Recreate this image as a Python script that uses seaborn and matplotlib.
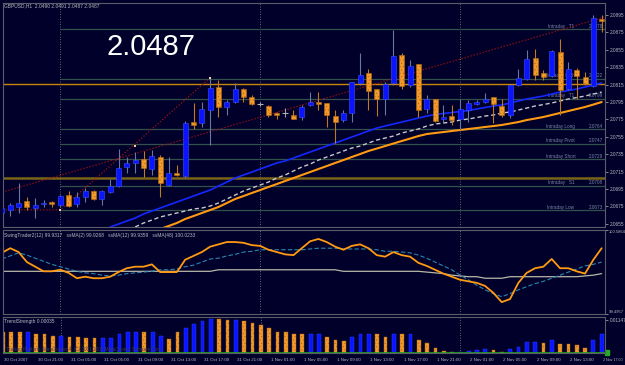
import numpy as np
import pandas as pd
import matplotlib
matplotlib.use("Agg")
import matplotlib.pyplot as plt
import matplotlib.transforms as mtransforms
import seaborn as sns

sns.set_theme(style="dark")
plt.rcParams['font.family'] = ['Liberation Sans', 'DejaVu Sans']
plt.rcParams['hatch.linewidth'] = 0.4

# ---------------- data ----------------
opens = [2.0667, 2.0671, 2.0674, 2.0681, 2.0673, 2.0678, 2.0680, 2.0677, 2.0688, 2.0678,
         2.0686, 2.0693, 2.0684, 2.0692, 2.0699, 2.0720, 2.0725, 2.0730, 2.0718, 2.0732,
         2.0700, 2.0713, 2.0710, 2.0772, 2.0771, 2.0786, 2.0812, 2.0789, 2.0795, 2.0810,
         2.0801, 2.0793, 2.0790, 2.0782, 2.0782, 2.0780, 2.0778, 2.0792, 2.0795, 2.0794,
         2.0779, 2.0774, 2.0782, 2.0817, 2.0828, 2.0810, 2.0798, 2.0817, 2.0849, 2.0815,
         2.0839, 2.0787, 2.0798, 2.0775, 2.0779, 2.0775, 2.0786, 2.0793, 2.0795, 2.0801,
         2.0790, 2.0780, 2.0815, 2.0821, 2.0846, 2.0828, 2.0825, 2.0852, 2.0810, 2.0832,
         2.0824, 2.0813, 2.0891]
highs = [2.0676, 2.0679, 2.0702, 2.0686, 2.0685, 2.0682, 2.0681, 2.0688, 2.0693, 2.0692,
         2.0696, 2.0694, 2.0694, 2.0707, 2.0741, 2.0732, 2.0738, 2.0739, 2.0740, 2.0734,
         2.0732, 2.0723, 2.0773, 2.0794, 2.0795, 2.0823, 2.0820, 2.0797, 2.0817, 2.0811,
         2.0803, 2.0795, 2.0792, 2.0783, 2.0788, 2.0786, 2.0792, 2.0806, 2.0806, 2.0794,
         2.0786, 2.0786, 2.0818, 2.0851, 2.0833, 2.0810, 2.0818, 2.0878, 2.0851, 2.0843,
         2.0839, 2.0803, 2.0799, 2.0792, 2.0792, 2.0799, 2.0797, 2.0797, 2.0805, 2.0801,
         2.0799, 2.0815, 2.0833, 2.0855, 2.0856, 2.0832, 2.0855, 2.0868, 2.0841, 2.0834,
         2.0829, 2.0895, 2.0895]
lows = [2.0666, 2.0664, 2.0667, 2.0671, 2.0662, 2.0674, 2.0674, 2.0674, 2.0674, 2.0674,
        2.0680, 2.0682, 2.0677, 2.0690, 2.0697, 2.0713, 2.0713, 2.0709, 2.0711, 2.0686,
        2.0699, 2.0710, 2.0708, 2.0764, 2.0766, 2.0746, 2.0778, 2.0780, 2.0794, 2.0795,
        2.0792, 2.0790, 2.0778, 2.0775, 2.0778, 2.0775, 2.0774, 2.0790, 2.0786, 2.0766,
        2.0748, 2.0772, 2.0772, 2.0815, 2.0786, 2.0779, 2.0780, 2.0815, 2.0810, 2.0812,
        2.0778, 2.0782, 2.0772, 2.0771, 2.0769, 2.0763, 2.0772, 2.0792, 2.0794, 2.0771,
        2.0778, 2.0777, 2.0813, 2.0820, 2.0820, 2.0820, 2.0824, 2.0780, 2.0809, 2.0798,
        2.0815, 2.0812, 2.0875]
closes = [2.0673, 2.0677, 2.0679, 2.0674, 2.0677, 2.0679, 2.0678, 2.0687, 2.0676, 2.0686,
          2.0693, 2.0684, 2.0693, 2.0699, 2.0719, 2.0725, 2.0728, 2.0719, 2.0733, 2.0702,
          2.0713, 2.0711, 2.0771, 2.0769, 2.0787, 2.0811, 2.0789, 2.0795, 2.0810, 2.0801,
          2.0793, 2.0793, 2.0780, 2.0780, 2.0782, 2.0775, 2.0789, 2.0795, 2.0793, 2.0780,
          2.0772, 2.0782, 2.0818, 2.0826, 2.0808, 2.0799, 2.0816, 2.0848, 2.0813, 2.0837,
          2.0786, 2.0799, 2.0773, 2.0778, 2.0774, 2.0787, 2.0794, 2.0795, 2.0799, 2.0793,
          2.0780, 2.0815, 2.0823, 2.0844, 2.0826, 2.0824, 2.0854, 2.0809, 2.0833, 2.0825,
          2.0816, 2.0892, 2.0888]

# moving averages on price (start bar, values)
ma_blue_start = 13
ma_blue = [2.06513, 2.06547, 2.06582, 2.06616, 2.06662, 2.06697, 2.06731, 2.06766, 2.06800, 2.06835,
           2.06869, 2.06904, 2.06938, 2.06984, 2.07030, 2.07076, 2.07111, 2.07145, 2.07180, 2.07214,
           2.07249, 2.07272, 2.07306, 2.07341, 2.07375, 2.07410, 2.07444, 2.07479, 2.07513, 2.07548,
           2.07582, 2.07617, 2.07651, 2.07674, 2.07697, 2.07720, 2.07743, 2.07766, 2.07789, 2.07806,
           2.07818, 2.07829, 2.07841, 2.07852, 2.07870, 2.07887, 2.07904, 2.07916, 2.07939, 2.07962,
           2.07985, 2.08002, 2.08019, 2.08042, 2.08065, 2.08082, 2.08100, 2.08123, 2.08146, 2.08169]
ma_grey_start = 16
ma_grey = [2.06513, 2.06559, 2.06593, 2.06628, 2.06651, 2.06674, 2.06697, 2.06720, 2.06731, 2.06754,
           2.06789, 2.06835, 2.06881, 2.06927, 2.06961, 2.06996, 2.07030, 2.07076, 2.07111, 2.07157,
           2.07203, 2.07237, 2.07283, 2.07318, 2.07352, 2.07387, 2.07421, 2.07444, 2.07479, 2.07513,
           2.07536, 2.07559, 2.07594, 2.07617, 2.07640, 2.07674, 2.07697, 2.07709, 2.07720, 2.07743,
           2.07755, 2.07772, 2.07789, 2.07801, 2.07824, 2.07835, 2.07858, 2.07881, 2.07904, 2.07921,
           2.07939, 2.07962, 2.07985, 2.08002, 2.08019, 2.08042, 2.08065]
ma_orange_start = 19
ma_orange = [2.06490, 2.06524, 2.06559, 2.06605, 2.06639, 2.06674, 2.06708, 2.06743, 2.06789, 2.06835,
             2.06869, 2.06904, 2.06938, 2.06973, 2.07007, 2.07042, 2.07076, 2.07111, 2.07145, 2.07180,
             2.07214, 2.07249, 2.07283, 2.07318, 2.07352, 2.07387, 2.07415, 2.07444, 2.07473, 2.07502,
             2.07530, 2.07559, 2.07582, 2.07594, 2.07605, 2.07617, 2.07628, 2.07640, 2.07651, 2.07663,
             2.07674, 2.07686, 2.07703, 2.07720, 2.07743, 2.07760, 2.07778, 2.07801, 2.07824, 2.07847,
             2.07870, 2.07893, 2.07921, 2.07950]

# intraday levels
level_values = [2.0879, 2.0822, 2.0799, 2.0764, 2.0747, 2.0729, 2.0699, 2.0671]
level_names = ["Intraday   T1", "Intraday High", "Intraday   T1", "Intraday Long",
               "Intraday Pivot", "Intraday Short", "Intraday   S1", "Intraday Low"]
level_labels = ["2.0878", "2.0822", "2.0799", "2.0764", "2.0747", "2.0729", "2.0708", "2.0673"]
prev_high = 2.0816
prev_low = 2.0708

# trend lines (bar, price)
trend_long_x = [-0.3, 72.4]
trend_long_y = [2.06904, 2.08928]
zigzag_x = [-0.3, 7, 25]
zigzag_y = [2.0671, 2.0671, 2.0823]
pivot_x = [7, 16, 25]
pivot_y = [2.0671, 2.07444, 2.0823]

# oscillator
osc_swing = [100.29, 100.35, 100.30, 100.17, 100.11, 100.05, 100.05, 100.07, 100.03, 99.96,
             99.98, 99.96, 99.96, 99.98, 100.04, 100.09, 100.11, 100.11, 100.14, 100.04,
             100.04, 100.04, 100.20, 100.25, 100.30, 100.37, 100.40, 100.43, 100.43, 100.42,
             100.39, 100.38, 100.33, 100.30, 100.27, 100.26, 100.35, 100.44, 100.47, 100.43,
             100.37, 100.33, 100.38, 100.40, 100.35, 100.26, 100.24, 100.30, 100.26, 100.24,
             100.16, 100.12, 100.07, 100.02, 99.98, 99.94, 99.92, 99.90, 99.86, 99.77,
             99.65, 99.69, 99.90, 100.03, 100.09, 100.11, 100.21, 100.09, 100.09, 100.05,
             100.02, 100.20, 100.35]
osc_ma12 = [100.21, 100.25, 100.29, 100.26, 100.22, 100.18, 100.14, 100.11, 100.08, 100.05,
            100.03, 100.02, 100.00, 99.99, 100.00, 100.02, 100.03, 100.04, 100.05, 100.07,
            100.07, 100.08, 100.11, 100.13, 100.17, 100.21, 100.22, 100.25, 100.27, 100.30,
            100.31, 100.33, 100.33, 100.33, 100.33, 100.33, 100.33, 100.34, 100.35, 100.35,
            100.35, 100.34, 100.34, 100.34, 100.34, 100.33, 100.31, 100.31, 100.30, 100.29,
            100.26, 100.22, 100.17, 100.12, 100.07, 100.00, 99.94, 99.87, 99.81, 99.76,
            99.72, 99.76, 99.81, 99.85, 99.89, 99.92, 99.96, 100.00, 100.04, 100.08,
            100.12, 100.14, 100.17]
osc_ma48 = [100.05] * 26 + [100.07] * 15 + [100.05] * 10 + \
           [100.04, 100.03, 100.02, 100.00, 99.99, 99.98, 99.98, 99.96, 99.96, 99.96] + \
           [99.98] * 9 + [99.99, 100.00, 100.02]
osc_top = 100.5864
osc_bottom = 99.4957

# trend strength histogram
strength = [0.0072, 0.0072, 0.0072, 0.0072, 0.0065, 0.0065, 0.0061, 0.0061, 0.0057, 0.0057,
            0.0054, 0.0054, 0.0054, 0.0054, 0.0065, 0.0072, 0.0075, 0.0072, 0.0075, 0.0061,
            0.0050, 0.0072, 0.0086, 0.0100, 0.0111, 0.0118, 0.0118, 0.0115, 0.0115, 0.0111,
            0.0104, 0.0097, 0.0086, 0.0075, 0.0072, 0.0065, 0.0065, 0.0065, 0.0065, 0.0057,
            0.0047, 0.0043, 0.0057, 0.0068, 0.0068, 0.0065, 0.0057, 0.0068, 0.0068, 0.0068,
            0.0047, 0.0036, 0.0018, 0.0007, 0.0004, 0.0004, 0.0007, 0.0011, 0.0014, 0.0011,
            0.0004, 0.0014, 0.0022, 0.0039, 0.0039, 0.0036, 0.0047, 0.0032, 0.0032, 0.0029,
            0.0018, 0.0047, 0.0068]
strength_dir = list("dddudddudd" "dduuuuuduu" "dduuuuddud" "ddddddduud" "dduuuddudu"
                    "ddddduuuud" "duuuududdd" "duu")

time_labels = ["30 Oct 2007", "30 Oct 21:00", "31 Oct 01:00", "31 Oct 05:00", "31 Oct 09:00",
               "31 Oct 13:00", "31 Oct 17:00", "31 Oct 21:00", "1 Nov 01:00", "1 Nov 05:00",
               "1 Nov 09:00", "1 Nov 13:00", "1 Nov 17:00", "1 Nov 21:00", "2 Nov 01:00",
               "2 Nov 05:00", "2 Nov 09:00", "2 Nov 13:00", "2 Nov 17:00"]
day_breaks = [7, 31, 55]
price_ticks = [2.0655, 2.0675, 2.0695, 2.0715, 2.0735, 2.0755, 2.0775, 2.0795, 2.0815,
               2.0835, 2.0855, 2.0875, 2.0895]
header = "GBPUSD,H1  2.0490 2.0491 2.0487 2.0487"
big_price = "2.0487"
osc_header = "SwingTrader2(12) 99.9317   ssMA(2) 99.9268   ssMA(12) 99.9359   ssMA(48) 100.0233"
ts_header = "TrendStrength 0.00035"

# ---------------- style ----------------
BG = "#00002a"
BLUE = "#0a14ff"
ORANGE = "#f29a2c"
FRAME = "#5c5c68"
TXT = "#b8b8c0"
LVL = "#34504a"
LVLTXT = "#7a88a6"

W, H = 625, 365
fig = plt.figure(figsize=(6.25, 3.65), dpi=100)
fig.patch.set_facecolor(BG)

def box(x0, y0, x1, y1):
    return [x0 / W, 1 - y1 / H, (x1 - x0) / W, (y1 - y0) / H]

ax = fig.add_axes(box(3, 3, 605, 227))
axo = fig.add_axes(box(3, 230, 605, 314))
axb = fig.add_axes(box(3, 317, 605, 353))
XL = (0.13, 72.4)

for a in (ax, axo, axb):
    a.set_facecolor(BG)
    a.grid(False)
    for s in a.spines.values():
        s.set_color(FRAME)
        s.set_linewidth(0.8)
    a.yaxis.tick_right()
    a.tick_params(axis='y', colors=TXT, labelsize=3.4, length=2, width=0.5, pad=1.2,
                  direction='out', labelcolor=TXT)
    for d in day_breaks:
        a.axvline(d, color="#8a8a8a", lw=0.6, ls=(0, (1, 2)), zorder=1)

idx = np.arange(len(opens))
o = np.array(opens); c = np.array(closes); h = np.array(highs); l = np.array(lows)
up = c > o
dn = c < o
dj = c == o

# levels
ax.hlines(level_values, 7, XL[1], colors=LVL, lw=0.9, zorder=1)
for v, n, t in zip(level_values, level_names, level_labels):
    ax.text(67.1, v + 0.00004, n, color=LVLTXT, fontsize=3.3, ha='center', va='bottom', zorder=1)
    ax.text(72.15, v + 0.00004, t, color=LVLTXT, fontsize=3.3, ha='right', va='bottom', zorder=1)
ax.axhline(prev_high, color="#c8860a", lw=1.0, zorder=1.5)
ax.axhline(prev_low, color="#7a6418", lw=1.8, zorder=1.5)

# trend lines
ax.plot(trend_long_x, trend_long_y, color="#a01010", lw=0.9, ls=(0, (1, 1.5)), zorder=2)
ax.plot(zigzag_x, zigzag_y, color="#a01010", lw=0.9, ls=(0, (1, 1.5)), zorder=2)
ax.scatter(pivot_x, pivot_y, s=2.5, marker='s', color="#f0d0b0", zorder=6, linewidths=0)

# moving averages (seaborn)
df_blue = pd.DataFrame({"bar": np.arange(ma_blue_start, ma_blue_start + len(ma_blue)), "v": ma_blue})
df_grey = pd.DataFrame({"bar": np.arange(ma_grey_start, ma_grey_start + len(ma_grey)), "v": ma_grey})
df_or = pd.DataFrame({"bar": np.arange(ma_orange_start, ma_orange_start + len(ma_orange)), "v": ma_orange})
sns.lineplot(data=df_blue, x="bar", y="v", ax=ax, color="#1428ff", lw=1.2, zorder=3)
sns.lineplot(data=df_grey, x="bar", y="v", ax=ax, color="#c8c8c8", lw=1.0, linestyle=(0, (3, 2)), zorder=3)
sns.lineplot(data=df_or, x="bar", y="v", ax=ax, color="#ff9a12", lw=1.5, zorder=3)

# candles
ax.vlines(idx[up], l[up], h[up], colors="#6878a0", lw=0.8, zorder=4)
ax.vlines(idx[dn], l[dn], h[dn], colors="#c07a20", lw=0.8, zorder=4)
ax.vlines(idx[dj], l[dj], h[dj], colors="#a0a0a0", lw=0.8, zorder=4)
bw = 0.6
ax.bar(idx[up], np.maximum(c[up] - o[up], 0.00004), bottom=o[up], width=bw,
       color=BLUE, edgecolor="#3850ff", lw=0.4, zorder=5)
ax.bar(idx[dn], np.maximum(o[dn] - c[dn], 0.00004), bottom=c[dn], width=bw,
       color=ORANGE, edgecolor="#b86a10", lw=0.4, hatch='.....', zorder=5)
ax.hlines(o[dj], idx[dj] - 0.35, idx[dj] + 0.35, colors="#b0b0b0", lw=0.8, zorder=5)

ax.set_xlim(*XL)
ax.set_ylim(2.06513, 2.09089)
ax.set_yticks(price_ticks)
ax.set_yticklabels([f"{t:.4f}" for t in price_ticks])
ax.set_xticks([])
ax.set_xlabel(""); ax.set_ylabel("")

# oscillator
df_osc = pd.DataFrame({"bar": idx, "swing": osc_swing, "ma12": osc_ma12, "ma48": osc_ma48})
sns.lineplot(data=df_osc, x="bar", y="ma48", ax=axo, color="#b8b8a8", lw=0.9)
sns.lineplot(data=df_osc, x="bar", y="ma12", ax=axo, color="#2a86b0", lw=0.8, linestyle=(0, (4, 2)))
sns.lineplot(data=df_osc, x="bar", y="swing", ax=axo, color="#ff9a12", lw=1.3)
axo.set_xlim(*XL)
axo.set_ylim(osc_bottom, osc_top)
axo.set_yticks([osc_top, osc_bottom])
axo.set_yticklabels([f"{osc_top:.4f}", f"{osc_bottom:.4f}"])
axo.tick_params(axis='y', labelsize=3.0, pad=0.8)
lbls = axo.get_yticklabels()
lbls[0].set_va('top'); lbls[1].set_va('bottom')
axo.set_xticks([])
axo.set_xlabel(""); axo.set_ylabel("")

# trend strength (seaborn barplot)
df_ts = pd.DataFrame({"bar": idx, "s": strength,
                      "dir": ["up" if d == "u" else "dn" for d in strength_dir]})
sns.barplot(data=df_ts, x="bar", y="s", hue="dir", palette={"up": BLUE, "dn": ORANGE},
            dodge=False, width=0.45, native_scale=True, saturation=1, legend=False, ax=axb)
dir_by_bar = dict(zip(df_ts["bar"], df_ts["dir"]))
for p in axb.patches:
    xc = p.get_x() + p.get_width() / 2
    if dir_by_bar.get(int(round(xc))) == "up":
        p.set_facecolor(BLUE)
        p.set_edgecolor("#2a40ff")
        p.set_linewidth(0.3)
        p.set_hatch(None)
    else:
        p.set_facecolor(ORANGE)
        p.set_hatch('.....')
        p.set_edgecolor("#b86a10")
        p.set_linewidth(0.3)
axb.axhline(0, color="#22a022", lw=1.2, zorder=5)
axb.set_xlim(*XL)
axb.set_ylim(0, 0.0126)
axb.set_yticks([0.01147])
axb.set_yticklabels(["0.01147"])
axb.set_xlabel(""); axb.set_ylabel("")
tick_pos = list(range(0, 73, 4))
axb.set_xticks(tick_pos)
axb.set_xticklabels(time_labels)
axb.tick_params(axis='x', colors=TXT, labelsize=3.2, length=2.5, width=0.5, pad=0.8,
                direction='out', labelcolor=TXT)
off = mtransforms.ScaledTranslation(1.5 / 100, 0, fig.dpi_scale_trans)
xt = axb.get_xticklabels()
for t in xt:
    t.set_ha('left')
    t.set_transform(t.get_transform() + off)
xt[-1].set_fontsize(2.6)
axb.add_patch(plt.Rectangle((605 / W, 1 - 355 / H), 4 / W, 5 / H, transform=fig.transFigure,
                            color="#22b022", clip_on=False))

# texts
fig.text(4 / W, 1 - 6 / H, header, color=TXT, fontsize=3.5, va='center', ha='left')
fig.text(151 / W, 1 - 47 / H, big_price, color="white", fontsize=21, va='center', ha='center')
fig.text(4 / W, 1 - 236 / H, osc_header, color=TXT, fontsize=3.5, va='center', ha='left')
fig.text(4 / W, 1 - 322 / H, ts_header, color=TXT, fontsize=3.5, va='center', ha='left')
fig.text(6 / W, 1 - 350 / H, "Trading Platform: MetaTrader 4, (C) 2001-2007 MetaQuotes Software Corp.",
         color="#3a3a5a", fontsize=3.3, va='center', ha='left')

fig.savefig("out.png", dpi=100, facecolor=BG)
